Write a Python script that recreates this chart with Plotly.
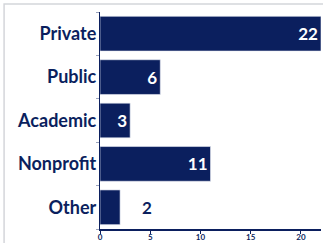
import plotly.graph_objects as go

categories = ["Private", "Public", "Academic", "Nonprofit", "Other"]
values = [22, 6, 3, 11, 2]
x_ticks = [0, 5, 10, 15, 20]

NAVY = "#0b1f5e"
FONT = "Lato"

inside = [v >= 3 for v in values]
positions = ["inside" if f else "none" for f in inside]

fig = go.Figure(go.Bar(
    y=categories,
    x=values,
    orientation="h",
    marker=dict(color=NAVY, line=dict(color="#e8ebf3", width=0.6)),
    text=[str(v) for v in values],
    textposition=positions,
    insidetextanchor="end",
    insidetextfont=dict(family=FONT, size=17, color="white", weight="bold"),
    textangle=0,
    constraintext="none",
    cliponaxis=False,
    hoverinfo="skip",
))

for c, v, f in zip(categories, values, inside):
    if not f:
        fig.add_annotation(x=v, y=c, text=str(v), showarrow=False,
                           xanchor="left", xshift=20,
                           font=dict(family=FONT, size=17, color=NAVY, weight="bold"))

fig.add_shape(type="rect", xref="paper", yref="paper",
              x0=-0.434, x1=1.3, y0=-0.3, y1=1.037,
              line=dict(color="#d4d6da", width=1.5), layer="below")

fig.update_layout(
    width=323, height=243,
    margin=dict(l=100, r=2, t=12, b=14),
    paper_bgcolor="white", plot_bgcolor="white",
    bargap=0.2,
    showlegend=False,
    font=dict(family=FONT, color=NAVY),
)
fig.update_yaxes(
    categoryorder="array", categoryarray=categories[::-1],
    showline=True, linecolor=NAVY, linewidth=1.2,
    ticks="outside", ticklen=3, tickcolor="#9aa3bd", tickson="boundaries",
    tickfont=dict(family=FONT, size=18, color=NAVY, weight="bold"),
    ticklabelstandoff=-1,
    showgrid=False, zeroline=False, automargin=False,
)
fig.update_xaxes(
    range=[0, 22], tickvals=x_ticks,
    showline=True, linecolor=NAVY, linewidth=1.5,
    ticks="outside", ticklen=3, tickcolor=NAVY,
    tickfont=dict(family=FONT, size=8, color=NAVY, weight="bold"),
    ticklabelstandoff=-3,
    showgrid=False, zeroline=False, automargin=False,
)

fig.write_html("out.html",
               config={"displayModeBar": False},
               post_script="document.body.style.margin='0';document.body.style.overflow='hidden';")
